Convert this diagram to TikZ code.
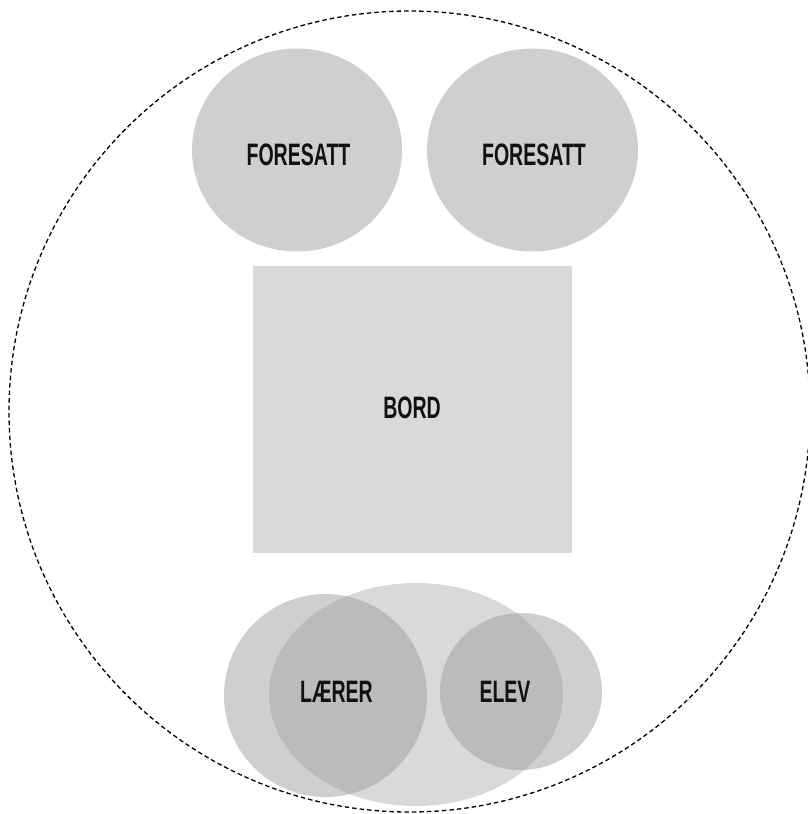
\documentclass[tikz,border=0pt]{standalone}
\usepackage{fontspec}
\usetikzlibrary{shapes.geometric}
\newfontfamily\labfont{Liberation Sans}[FakeStretch=0.63]
\definecolor{seatgray}{HTML}{CFCFCE}
\definecolor{tablegray}{HTML}{D9D9D9}
\definecolor{overgray}{HTML}{9A9A9A}
\definecolor{textblack}{HTML}{111111}
\begin{document}
\begin{tikzpicture}[x=1pt,y=-1pt,
  lab/.style={font=\labfont\bfseries\fontsize{31}{31}\selectfont, text=textblack, inner sep=0pt},
  seat/.style={ellipse, inner sep=0pt, draw=none, fill=seatgray},
  tablebox/.style={rectangle, inner sep=0pt, draw=none, fill=tablegray},
  share/.style={ellipse, inner sep=0pt, draw=none, fill=tablegray},
  person/.style={ellipse, inner sep=0pt, draw=none, fill=overgray, fill opacity=0.47},
  room/.style={circle, inner sep=0pt, draw=black, line width=1.3pt, dash pattern=on 4.5pt off 3pt, fill=none}
]
\useasboundingbox (0,0) rectangle (807,814);
\node[room, minimum size=801pt] (room) at (409.5,411.5) {};
% parents
\node[seat, minimum width=210pt, minimum height=203pt] (par1) at (297,150) {};
\node[seat, minimum width=211pt, minimum height=203pt] (par2) at (532.5,150) {};
\node[lab] (par1t) at (298.5,154.5) {FORESATT};
\node[lab] (par2t) at (534,154.5) {FORESATT};
% table
\node[tablebox, minimum width=319pt, minimum height=287pt] (table) at (412.5,409.5) {};
\node[lab] (tablet) at (412,407.5) {BORD};
% teacher and student
\node[share, minimum width=294pt, minimum height=223pt] (shared) at (416,694.5) {};
\node[person, minimum width=203pt, minimum height=203pt] (teacher) at (325.5,695.5) {};
\node[person, minimum width=162pt, minimum height=157pt] (student) at (521,691.5) {};
\node[lab] (teachert) at (336.5,692) {LÆRER};
\node[lab] (studentt) at (505,692) {ELEV};
\end{tikzpicture}
\end{document}
